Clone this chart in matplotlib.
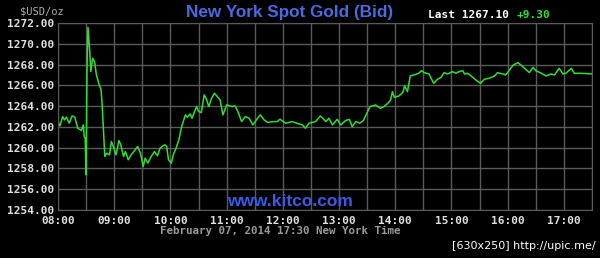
import matplotlib
matplotlib.use("Agg")
import matplotlib.pyplot as plt
from matplotlib.ticker import MultipleLocator, FuncFormatter

# minutes after 08:00 New York time, and the bid price
minutes = [0, 2, 5, 7, 9, 12, 15, 18, 21, 25, 27, 28, 29, 30, 31, 32, 34, 35, 37, 39,
           41, 44, 46, 47, 49, 50, 52, 55, 57, 59, 62, 65, 67, 70, 72, 75, 78, 81, 85, 88,
           91, 93, 96, 99, 103, 106, 109, 112, 114, 116, 118, 121, 123, 126, 129, 132, 136, 138, 141, 143,
           148, 150, 153, 156, 158, 161, 164, 167, 170, 173, 176, 180, 186, 189, 192, 196, 200, 204, 208, 213,
           216, 220, 224, 229, 234, 237, 243, 250, 255, 261, 264, 268, 275, 280, 286, 289, 293, 298, 302, 307,
           311, 314, 318, 322, 326, 328, 333, 339, 344, 348, 352, 355, 357, 359, 364, 368, 370, 373, 376, 380,
           385, 388, 391, 396, 400, 401, 405, 409, 412, 416, 421, 425, 428, 432, 434, 437, 441, 446, 451, 455,
           460, 466, 469, 475, 478, 482, 486, 491, 494, 500, 503, 507, 510, 516, 521, 526, 530, 535, 539, 542,
           546, 548, 551, 558, 570]
price = [1262.51, 1262.10, 1262.99, 1262.67, 1262.93, 1262.35, 1263.06, 1262.93, 1261.87, 1261.65,
         1262.19, 1261.07, 1260.91, 1257.39, 1267.96, 1271.58, 1269.08, 1267.32, 1268.60, 1268.28,
         1267.00, 1266.04, 1265.56, 1264.28, 1260.75, 1259.15, 1259.47, 1259.31, 1260.59, 1260.11,
         1259.31, 1260.69, 1260.27, 1259.15, 1259.63, 1258.83, 1259.31, 1259.63, 1260.11, 1259.47,
         1258.19, 1258.99, 1258.51, 1259.09, 1259.63, 1259.21, 1259.95, 1260.17, 1260.27, 1260.11,
         1258.83, 1258.51, 1259.31, 1259.95, 1260.75, 1262.03, 1263.16, 1262.93, 1263.25, 1262.83,
         1263.96, 1263.48, 1263.38, 1265.08, 1264.76, 1263.96, 1264.76, 1265.24, 1264.92, 1264.60,
         1263.15, 1264.12, 1263.96, 1264.02, 1263.48, 1262.51, 1262.99, 1262.83, 1262.19, 1262.83,
         1263.15, 1262.67, 1262.42, 1262.51, 1262.51, 1262.74, 1262.35, 1262.51, 1262.35, 1262.19,
         1261.87, 1262.35, 1262.51, 1263.05, 1262.51, 1262.83, 1262.19, 1262.73, 1262.19, 1262.61,
         1262.73, 1262.03, 1262.51, 1262.35, 1262.61, 1262.99, 1263.95, 1264.11, 1263.79, 1263.95,
         1264.27, 1264.59, 1265.39, 1264.85, 1264.98, 1265.30, 1265.94, 1265.39, 1266.90, 1267.00,
         1267.16, 1267.41, 1267.22, 1267.09, 1266.36, 1266.19, 1266.58, 1266.77, 1267.22, 1267.09,
         1267.32, 1267.16, 1267.32, 1267.41, 1267.09, 1267.16, 1266.90, 1266.52, 1266.19, 1266.58,
         1266.68, 1266.90, 1267.22, 1267.09, 1267.00, 1267.48, 1267.96, 1268.18, 1267.96, 1267.48,
         1267.22, 1267.73, 1267.41, 1267.16, 1266.90, 1267.09, 1267.00, 1267.64, 1267.09, 1267.16,
         1267.48, 1267.64, 1267.16, 1267.16, 1267.10]

hour_labels = ["08:00", "09:00", "10:00", "11:00", "12:00", "13:00", "14:00", "15:00", "16:00", "17:00"]
last_price = "1267.10"
change = "+9.30"

mono = "DejaVu Sans Mono"

fig = plt.figure(figsize=(6, 2.58), dpi=100, facecolor="black")
ax = fig.add_axes([58 / 600, 48 / 258, 534 / 600, 187 / 258], facecolor="black")

ax.plot(minutes, price, color="#2ee02e", linewidth=1.1)

ax.set_xlim(0, 570)
ax.set_ylim(1254, 1272)
ax.xaxis.set_minor_locator(MultipleLocator(30))
ax.set_xticks([i * 60 for i in range(len(hour_labels))])
ax.set_xticklabels(hour_labels)
ax.yaxis.set_major_locator(MultipleLocator(2))
ax.yaxis.set_major_formatter(FuncFormatter(lambda v, p: "%.2f" % v))

ax.grid(True, which="both", color="#5a5a5a", linewidth=1.0)
ax.set_axisbelow(True)
for s in ax.spines.values():
    s.set_color("#5a5a5a")
ax.tick_params(length=0, colors="#e0e0e0")
ax.tick_params(axis="x", pad=4)
ax.tick_params(axis="y", pad=3)
for lbl in ax.get_xticklabels() + ax.get_yticklabels():
    lbl.set_fontfamily(mono)
    lbl.set_fontweight("bold")
    lbl.set_fontsize(8)

fig.text(42 / 600, 1 - 11 / 258, "$USD/oz", color="#b0b0b0", fontsize=7.5,
         family=mono, ha="center", va="center")
fig.text(290 / 600, 1 - 12 / 258, "New York Spot Gold (Bid)", color="#4a6ae0",
         fontsize=12.3, fontweight="bold", family="Liberation Sans", ha="center", va="center")
fig.text(428 / 600, 1 - 15 / 258, "Last " + last_price, color="white", fontsize=8,
         fontweight="bold", family=mono, ha="left", va="center")
fig.text(517 / 600, 1 - 15 / 258, change, color="#2ee02e", fontsize=8,
         fontweight="bold", family=mono, ha="left", va="center")
ax.text(0.434, 0.045, "www.kitco.com", transform=ax.transAxes, color="#3a5ae8",
        fontsize=12.5, fontweight="bold", family="Liberation Sans", ha="center", va="center")
fig.text(280 / 600, 1 - 231 / 258, "February 07, 2014 17:30 New York Time", color="#9a9a9a",
         fontsize=7.8, fontweight="bold", family=mono, ha="center", va="center")
fig.text(596 / 600, 1 - 246 / 258, "[630x250] http://upic.me/", color="white",
         fontsize=8, family="DejaVu Sans", ha="right", va="center")

fig.savefig("out.png", dpi=100, facecolor="black")
